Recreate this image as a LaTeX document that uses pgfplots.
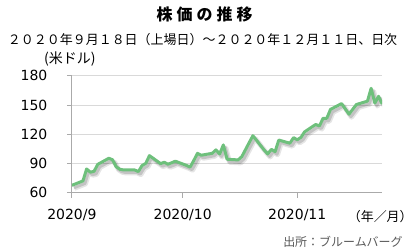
\documentclass[border=0pt]{standalone}
\usepackage{pgfplots}
\pgfplotsset{compat=1.18}
\usepackage{fontspec}
\setmainfont{DejaVu Sans}
\newfontfamily\jp{Noto Sans CJK JP}
\definecolor{linegreen}{RGB}{110,192,124}
\definecolor{axgray}{RGB}{170,170,170}
\definecolor{gridgray}{RGB}{217,217,217}
\definecolor{srcgray}{RGB}{89,89,89}
\pgfplotstableread{
d v
0 67.5
3 72
4 84.3
5 81
6 81.8
7 89
10 95.3
11 93.8
12 86.5
13 84
14 83.3
17 83.3
18 81.6
19 87.8
20 90
21 98
24 89.8
25 91.2
26 89.2
27 90.6
28 92.3
31 88
32 86.2
33 93
34 100.4
35 98.4
38 100.4
39 103.9
40 99.7
41 109
42 94.3
45 93.6
46 97
47 104.2
48 111.4
49 118.5
52 104
53 99.7
54 104.5
55 102
56 114
59 110.8
60 116.5
61 114.3
62 116.7
63 122.5
66 130
67 128.5
68 136.4
69 136.4
70 145.5
73 151.5
74 146
75 140.6
76 145.5
77 150.5
80 154
81 167.2
82 152
83 159
84 151
}\price
\begin{document}
\begin{tikzpicture}[x=1pt,y=1pt]
\path (0,0) rectangle (416,248);
\node[font=\jp\bfseries\fontsize{16}{16}\selectfont] at (205,234) {株\hspace{4pt}価\hspace{4pt}の\hspace{4pt}推\hspace{4pt}移};
\node[font=\jp\fontsize{13}{13}\selectfont] at (203,208) {２０２０年９月１８日（上場日）～２０２０年１２月１１日、日次};
\node[font=\jp\fontsize{14}{14}\selectfont] at (70,189) {(米ドル)};
\node[font=\jp\fontsize{13}{13}\selectfont] at (381,31) {（年／月）};
\node[font=\jp\fontsize{12}{12}\selectfont, text=srcgray, anchor=east] at (407,6) {出所：ブルームバーグ};
\begin{axis}[
  at={(72pt,55pt)}, anchor=south west,
  scale only axis, width=311pt, height=117pt,
  xmin=0, xmax=84, ymin=60, ymax=180,
  ytick={60,90,120,150,180},
  xtick={0,30,61},
  xticklabels={2020/9,2020/10,2020/11},
  axis x line*=bottom, axis y line*=left,
  axis line style={axgray, line width=0.8pt},
  tick style={axgray, line width=0.8pt},
  tick align=outside, major tick length=5pt,
  ymajorgrids, major grid style={gridgray, line width=0.8pt},
  ticklabel style={font=\fontsize{14}{14}\selectfont},
  /pgf/number format/assume math mode=true,
  yticklabel style={xshift=-16pt, anchor=east},
  xticklabel style={yshift=-8pt},
]
\addplot[no marks, black, opacity=0.10, line width=5pt, line join=round, transform canvas={xshift=2.5pt,yshift=-3pt}] table[x=d,y=v] {\price};
\addplot[no marks, black, opacity=0.15, line width=3pt, line join=round, transform canvas={xshift=2pt,yshift=-2.5pt}] table[x=d,y=v] {\price};
\addplot[no marks, linegreen, line width=3pt, line join=round] table[x=d,y=v] {\price};
\end{axis}
\end{tikzpicture}
\end{document}
